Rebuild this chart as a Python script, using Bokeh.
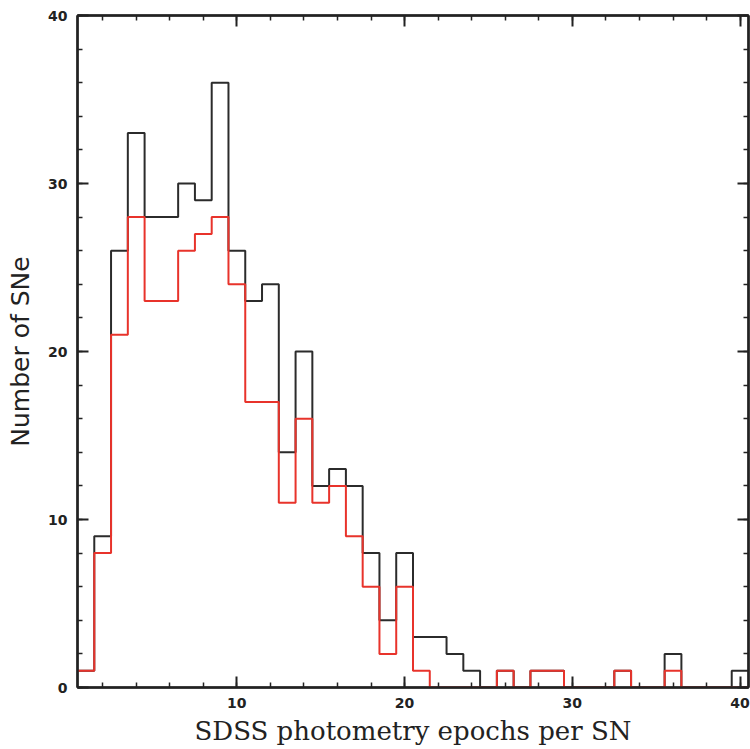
from bokeh.plotting import figure
from bokeh.models import Range1d, LinearAxis, FixedTicker, CustomJSTickFormatter
from bokeh.embed import file_html
from bokeh.resources import INLINE

# Histogram bins (centres at integer epoch counts)
bins = list(range(1, 41))
all_sne = [1, 9, 26, 33, 28, 28, 30, 29, 36, 26, 23, 24, 14, 20, 12, 13, 12, 8, 4, 8,
           3, 3, 2, 1, 0, 1, 0, 1, 1, 0, 0, 0, 1, 0, 0, 2, 0, 0, 0, 1]
subset_sne = [1, 8, 21, 28, 23, 23, 26, 27, 28, 24, 17, 17, 11, 16, 11, 12, 9, 6, 2, 6,
              1, 0, 0, 0, 0, 1, 0, 1, 1, 0, 0, 0, 1, 0, 0, 1, 0, 0, 0, 0]
x_ticks = [0, 10, 20, 30, 40]
y_ticks = [0, 10, 20, 30, 40]
minor = list(range(0, 41, 2))

p = figure(width=750, height=749, x_range=Range1d(0.5, 40.5), y_range=Range1d(0, 40),
           output_backend="svg", toolbar_location=None,
           min_border_left=77, min_border_right=2, min_border_top=15, min_border_bottom=62)
p.grid.visible = False
p.outline_line_color = "#222222"
p.outline_line_width = 2
p.background_fill_color = "white"
p.border_fill_color = "white"

edges = [b - 0.5 for b in bins] + [bins[-1] + 0.5]
p.step(x=edges, y=all_sne + [all_sne[-1]], mode="after", line_color="#2b2b2b", line_width=2)
p.step(x=edges, y=subset_sne + [subset_sne[-1]], mode="after", line_color="#e8332b", line_width=2)

p.add_layout(LinearAxis(), "above")
p.add_layout(LinearAxis(), "right")

for ax in p.xaxis + p.yaxis:
    ax.ticker = FixedTicker(ticks=x_ticks if ax in p.xaxis else y_ticks, minor_ticks=minor)
    ax.major_tick_in = 11
    ax.major_tick_out = 0
    ax.minor_tick_in = 5
    ax.minor_tick_out = 0
    ax.axis_line_width = 2.5
    ax.axis_line_color = "#222222"
    ax.major_tick_line_width = 2
    ax.major_tick_line_color = "#222222"
    ax.minor_tick_line_width = 1.5
    ax.minor_tick_line_color = "#222222"
    ax.major_label_text_font = "DejaVu Sans"
    ax.major_label_text_font_style = "bold"
    ax.major_label_text_font_size = "14px"
    ax.major_label_text_color = "#222222"
    ax.major_label_standoff = 10

xb = p.below[0]
xb.axis_label = "SDSS photometry epochs per SN"
xb.axis_label_text_font = "DejaVu Serif"
xb.axis_label_text_font_style = "normal"
xb.axis_label_text_font_size = "26px"
xb.axis_label_text_color = "#222222"
xb.axis_label_standoff = 5

yl = p.left[0]
yl.axis_label = "Number of SNe"
yl.axis_label_text_font = "DejaVu Sans"
yl.axis_label_text_font_style = "normal"
yl.axis_label_text_font_size = "25px"
yl.axis_label_text_color = "#222222"
yl.axis_label_standoff = 10

for ax in (p.above[0], p.right[0]):
    ax.formatter = CustomJSTickFormatter(code="return '';")
    ax.major_label_standoff = 0
    ax.axis_label_standoff = 0

open("out.html", "w").write(file_html(p, INLINE))
